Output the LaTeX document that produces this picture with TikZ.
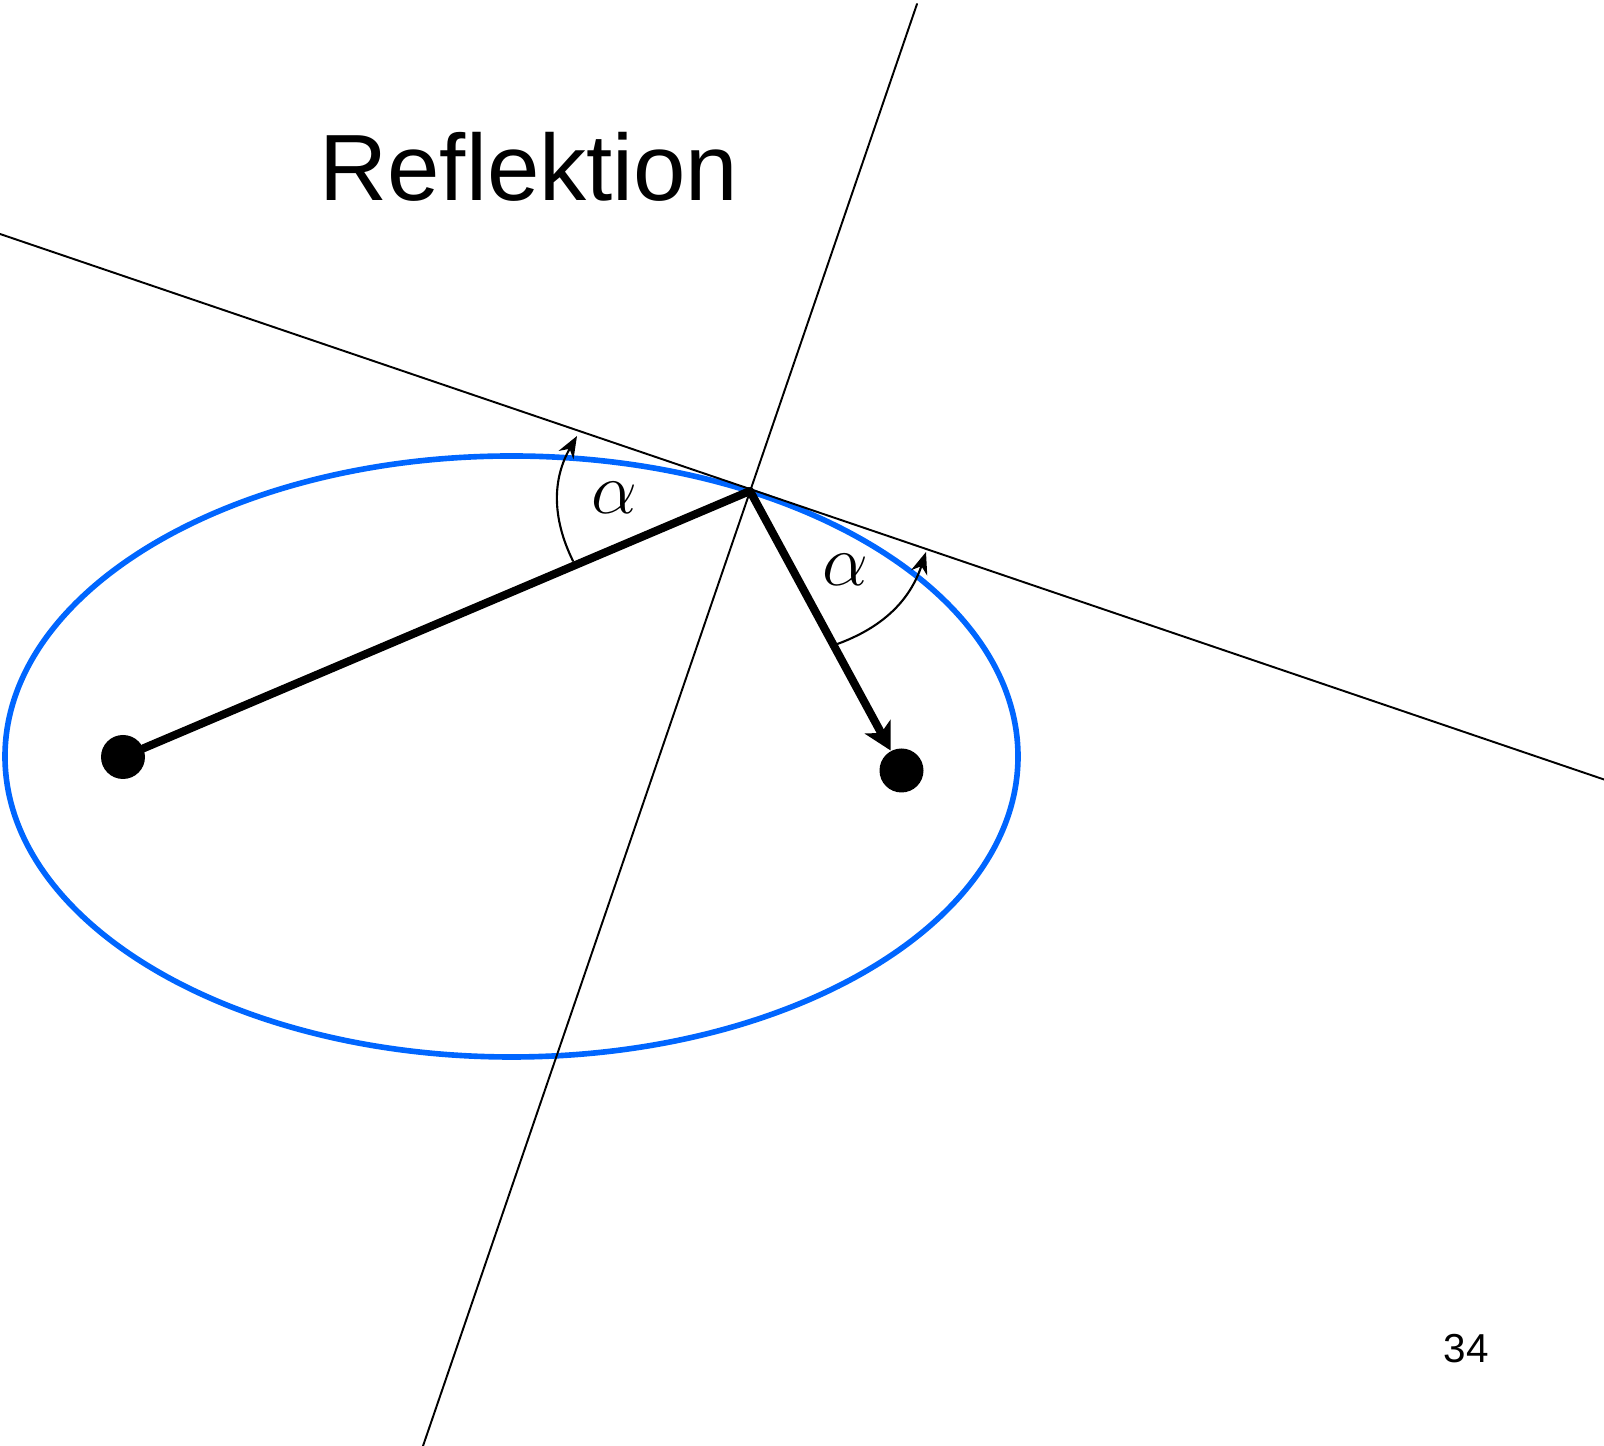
\documentclass[tikz,border=0pt]{standalone}
\usepackage{fontspec}
\usetikzlibrary{arrows.meta}
\setmainfont{Liberation Sans}
\definecolor{ellblue}{RGB}{0,102,255}
\begin{document}
\begin{tikzpicture}[line cap=round,line join=round,
    >={Stealth[length=2.2mm,width=1.7mm]}]
  \def\a{5.065}
  \def\b{3.005}

  % Frame
  \useasboundingbox (0,0) rectangle (16.04,14.46);

  % Title and page number
  \node[anchor=base] (title) at (5.29,12.455) {\fontsize{26.8}{30}\selectfont Reflektion};
  \node (page) at (14.66,0.97) {\fontsize{11.5}{14}\selectfont 34};

  % Ellipse
  \coordinate (O) at (5.115,6.895);
  \draw[ellblue,line width=1.6pt] (O) ellipse (\a cm and \b cm);

  % Points
  \coordinate (P) at (7.50,9.55);
  \node[circle,fill,inner sep=0pt,minimum size=0.44cm] (F1) at (1.23,6.89) {};
  \node[circle,fill,inner sep=0pt,minimum size=0.44cm] (F2) at (9.015,6.755) {};

  % Tangent and normal
  \coordinate (T1) at (0,12.12);
  \coordinate (T2) at (16.04,6.665);
  \coordinate (N1) at (9.17,14.42);
  \coordinate (N2) at (4.23,0);
  \draw[line width=0.55pt] (T1) -- (T2);
  \draw[line width=0.55pt] (N1) -- (N2);

  % Rays
  \draw[line width=2.3pt] (F1) -- (P);
  \draw[-{Stealth[length=2.7mm,width=2.9mm,inset=0.7mm]},line width=2.3pt] (P) -- (F2);

  % Angles
  \coordinate (A1) at (5.73,8.85);
  \coordinate (A2) at (5.77,10.10);
  \coordinate (B1) at (8.36,8.015);
  \coordinate (B2) at (9.26,8.94);
  \draw[->,line width=0.6pt] (A1) to[bend left=28] (A2);
  \draw[->,line width=0.6pt] (B1) to[bend right=26] (B2);
  \node (al1) at (6.14,9.48) {\fontsize{20}{24}\selectfont$\alpha$};
  \node (al2) at (8.45,8.76) {\fontsize{20}{24}\selectfont$\alpha$};
\end{tikzpicture}
\end{document}
